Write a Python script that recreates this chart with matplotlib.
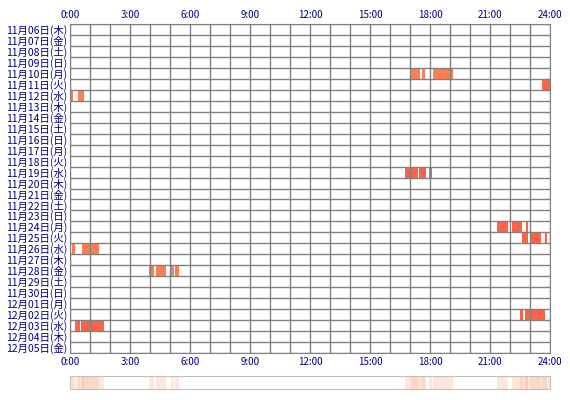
import matplotlib
matplotlib.use("Agg")
import matplotlib.pyplot as plt
from matplotlib.patches import Rectangle

plt.rcParams['font.family'] = ['Noto Sans CJK JP', 'DejaVu Sans']

dates = ["11月06日(木)","11月07日(金)","11月08日(土)","11月09日(日)","11月10日(月)","11月11日(火)",
         "11月12日(水)","11月13日(木)","11月14日(金)","11月15日(土)","11月16日(日)","11月17日(月)",
         "11月18日(火)","11月19日(水)","11月20日(木)","11月21日(金)","11月22日(土)","11月23日(日)",
         "11月24日(月)","11月25日(火)","11月26日(水)","11月27日(木)","11月28日(金)","11月29日(土)",
         "11月30日(日)","12月01日(月)","12月02日(火)","12月03日(水)","12月04日(木)","12月05日(金)"]
seg_row   = [4, 4, 4, 5, 6, 6, 13, 13, 13, 18, 18, 18, 19, 19, 19, 20, 20, 22, 22, 22, 22, 26, 26, 27, 27]
seg_start = [17.05, 17.6, 18.15, 23.6, 0.05, 0.4, 16.75, 17.45, 17.95, 21.35, 22.1, 22.8, 22.6, 23.0, 23.75,
             0.1, 0.6, 3.95, 4.3, 5.05, 5.25, 22.5, 22.75, 0.25, 0.55]
seg_end   = [17.5, 17.75, 19.15, 24.0, 0.15, 0.7, 17.4, 17.8, 18.1, 21.9, 22.6, 22.9, 22.9, 23.55, 23.85,
             0.25, 1.45, 4.2, 4.8, 5.2, 5.45, 22.65, 23.75, 0.5, 1.7]
seg_color = ["#FF7F50"]*3 + ["#FF6347"] + ["#FF7F50"]*2 + ["#FF6347"]*3 + ["#FF6347"]*6 + ["#FF7F50"]*6 + ["#FF6347"]*4
xticks = [0, 3, 6, 9, 12, 15, 18, 21, 24]
xlabels = ["0:00","3:00","6:00","9:00","12:00","15:00","18:00","21:00","24:00"]

W, H = 570, 400
fig = plt.figure(figsize=(5.7, 4.0), dpi=100)
ax = fig.add_axes([70/W, 1-353/H, 480/W, 329/H])
n = len(dates)
ax.set_xlim(0, 24)
ax.set_ylim(n, 0)
for r, s, e, c in zip(seg_row, seg_start, seg_end, seg_color):
    ax.add_patch(Rectangle((s, r), e-s, 1, color=c, lw=0, zorder=1))
for h in range(25):
    ax.axvline(h, color="#808080", lw=1, zorder=2)
for i in range(n+1):
    ax.axhline(i, color="#808080", lw=1, zorder=2)
for sp in ax.spines.values():
    sp.set_color("#808080")
ax.set_yticks([i+0.5 for i in range(n)])
ax.set_yticklabels(dates, fontsize=7.5, color="#000080")
ax.set_xticks(xticks)
ax.set_xticklabels(xlabels, fontsize=7, color="#000080")
ax.tick_params(length=0, pad=3, top=True, labeltop=True)
ax.tick_params(axis='y', pad=2)

ax2 = fig.add_axes([70/W, 1-389/H, 480/W, 13/H])
ax2.set_xlim(0, 24); ax2.set_ylim(0, 1)
for s, e in zip(seg_start, seg_end):
    ax2.add_patch(Rectangle((s, 0), e-s, 1, color="#FFB08A", alpha=0.3, lw=0))
ax2.set_xticks([]); ax2.set_yticks([])
for sp in ax2.spines.values():
    sp.set_color("#C0C0C0")
fig.savefig("out.png", dpi=100)
